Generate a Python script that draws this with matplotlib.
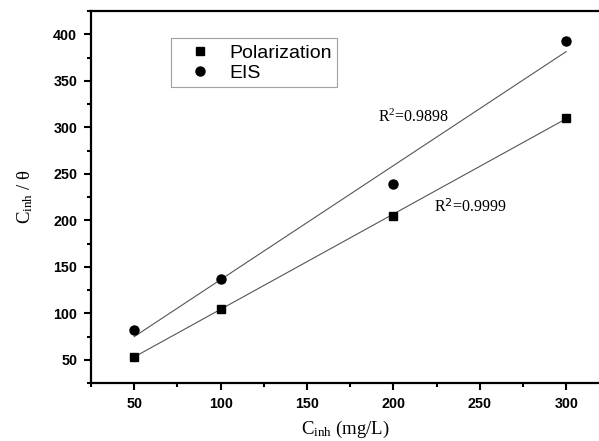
import numpy as np
import matplotlib
matplotlib.use("Agg")
import matplotlib.pyplot as plt
from matplotlib.ticker import MultipleLocator

plt.rcParams['mathtext.fontset'] = 'custom'
plt.rcParams['mathtext.rm'] = 'Liberation Serif'
plt.rcParams['mathtext.it'] = 'Liberation Serif:italic'

conc = [50, 100, 200, 300]
polarization = [53, 105, 205, 310]
eis = [82, 137, 239, 393]
xticks = [50, 100, 150, 200, 250, 300]
yticks = [50, 100, 150, 200, 250, 300, 350, 400]

fig = plt.figure(figsize=(5.99, 4.41), dpi=100)
ax = fig.add_axes([91/599, 1-383/441, 1-91/599, (383-11)/441])

x = np.array(conc, dtype=float)
for ys in (polarization, eis):
    p = np.polyfit(x, ys, 1)
    xx = np.array([x.min(), x.max()])
    ax.plot(xx, np.polyval(p, xx), color='#555555', lw=0.8, zorder=1)

ax.plot(conc, polarization, 's', color='black', ms=6, ls='none', label='Polarization', zorder=3)
ax.plot(conc, eis, 'o', color='black', ms=6.5, ls='none', label='EIS', zorder=3)

ax.set_xlim(25, 319)
ax.set_ylim(25, 425)
ax.set_xticks(xticks)
ax.set_yticks(yticks)
ax.xaxis.set_minor_locator(MultipleLocator(25))
ax.yaxis.set_minor_locator(MultipleLocator(25))
ax.tick_params(which='major', direction='out', length=5, width=1.5, pad=5)
ax.tick_params(which='minor', direction='out', length=3, width=1.5)
for lab in ax.get_xticklabels() + ax.get_yticklabels():
    lab.set_fontweight('bold')
    lab.set_fontfamily('Liberation Sans')
    lab.set_fontsize(10.3)

for s in ('left', 'bottom', 'top'):
    ax.spines[s].set_linewidth(1.6)
ax.spines['right'].set_visible(False)

ax.set_xlabel(r'C$_{\rm inh}$ (mg/L)', fontsize=13.5, family='Liberation Serif', labelpad=6)
ax.set_ylabel(r'C$_{\rm inh}$ / θ', fontsize=13.5, family='Liberation Serif', labelpad=13)

leg = ax.legend(loc='upper left', bbox_to_anchor=(0.157, 0.927), frameon=True, fancybox=False,
                edgecolor='#888888', prop={'family': 'Liberation Sans', 'size': 14},
                handletextpad=0.3, borderpad=0.3, labelspacing=0.12, handlelength=2.4,
                borderaxespad=0)
leg.get_frame().set_linewidth(0.8)

ax.text(191, 306, r'R$^{2}$=0.9898', fontsize=11.5, family='Liberation Serif')
ax.text(223.5, 209, r'R$^{\mathsf{2}}$=0.9999', fontsize=11.5, family='Liberation Serif')

fig.savefig('out.png', dpi=100)
